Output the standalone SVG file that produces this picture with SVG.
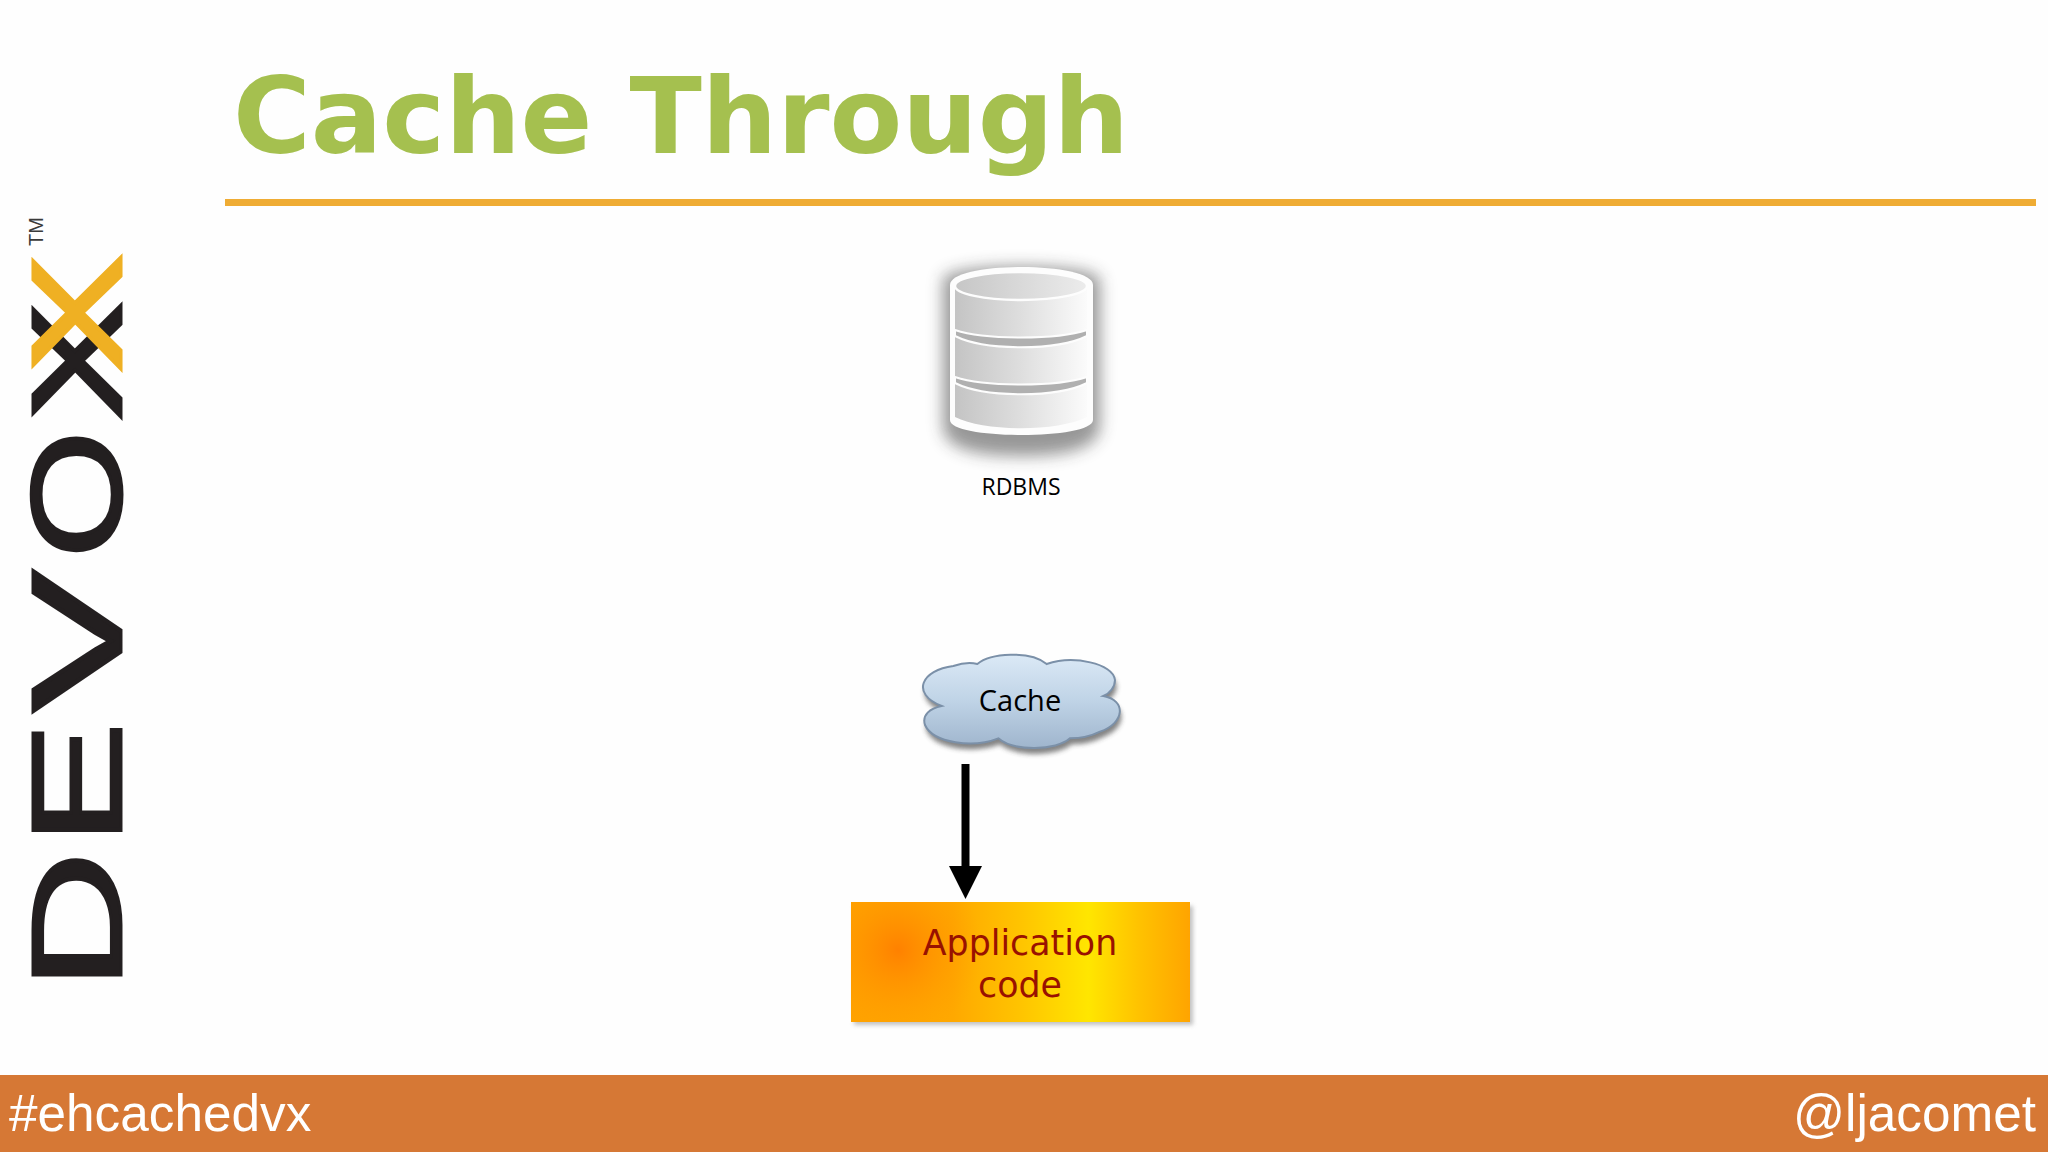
<svg xmlns="http://www.w3.org/2000/svg" width="2048" height="1152" viewBox="0 0 2048 1152">
<style>
.logo{font-family:"Liberation Sans",Arial,sans-serif;font-size:128px;fill:#231f20;stroke:#231f20;stroke-width:3}
.logoy{fill:#efb023;stroke:#efb023}
.foot{font-family:"Liberation Sans",Arial,sans-serif;font-size:51.300px;fill:#fff}
.app{font-family:"DejaVu Sans",Verdana,sans-serif;font-size:34.800px;fill:#991100;text-anchor:middle}
.band{fill:#b0b0b0;stroke:#fdfdfd;stroke-width:2}
</style>
<defs>
<linearGradient id="appH" x1="0" y1="0" x2="1" y2="0">
<stop offset="0" stop-color="#ffa200"/><stop offset=".3" stop-color="#ffa800"/><stop offset=".5" stop-color="#ffc400"/><stop offset=".7" stop-color="#ffe600"/><stop offset=".85" stop-color="#ffc200"/><stop offset="1" stop-color="#ffa400"/>
</linearGradient>
<radialGradient id="appR" gradientUnits="userSpaceOnUse" cx="898" cy="950" r="85">
<stop offset="0" stop-color="#ff7f00" stop-opacity=".95"/><stop offset="1" stop-color="#ff9c00" stop-opacity="0"/>
</radialGradient>
<linearGradient id="cloudG" x1="0" y1="0" x2="0" y2="1">
<stop offset="0" stop-color="#dbe9f6"/><stop offset=".5" stop-color="#bfd3e6"/><stop offset="1" stop-color="#9fb5cd"/>
</linearGradient>
<linearGradient id="cyl" x1="0" y1="0" x2="1" y2="0">
<stop offset="0" stop-color="#c4c4c4"/><stop offset=".5" stop-color="#dedede"/><stop offset="1" stop-color="#fbfbfb"/>
</linearGradient>
<linearGradient id="cylTop" x1="0" y1="0" x2="1" y2="0">
<stop offset="0" stop-color="#c6c6c6"/><stop offset="1" stop-color="#ececec"/>
</linearGradient>
<filter id="sh" x="-30%" y="-30%" width="160%" height="170%"><feGaussianBlur stdDeviation="8"/></filter>
<filter id="sh2" x="-10%" y="-10%" width="120%" height="120%"><feGaussianBlur stdDeviation="2"/></filter>
<marker id="head" markerUnits="userSpaceOnUse" markerWidth="34" markerHeight="33" refX="0" refY="16.5" orient="auto">
<path d="M0 0L33 16.5L0 33Z" fill="#000"/>
</marker>
</defs>
<rect width="2048" height="1152" fill="#fefefe"/>
<text x="233" y="153" font-family="'DejaVu Sans',Verdana,sans-serif" font-weight="700" font-size="106" fill="#a5c04f">Cache Through</text>
<rect x="225" y="199" width="1811" height="7" fill="#efac34"/>
<g id="logo">
<text class="logo" transform="translate(121,990) rotate(-90) scale(1.5,1)">D</text>
<text class="logo" transform="translate(121,845) rotate(-90) scale(1.44,1)">E</text>
<text class="logo" transform="translate(121,712) rotate(-90) scale(1.66,1)">V</text>
<text class="logo" transform="translate(121,558) rotate(-90) scale(1.28,1)">O</text>
<text class="logo" transform="translate(121,421) rotate(-90) scale(1.4,1)">X</text>
<text class="logo logoy" transform="translate(121,373) rotate(-90) scale(1.4,1)">X</text>
<text transform="translate(43,246) rotate(-90)" font-family="'Liberation Sans',Arial,sans-serif" font-size="20" fill="#3a3a3a">TM</text>
</g>
<g id="rdbms">
<path d="M943 280C943 262 1100 262 1100 280V425Q1100 456 1021 456T943 425Z" fill="#333" opacity=".5" filter="url(#sh)"/>
<path d="M950 285C950 261 1093 261 1093 285V420C1093 440 950 440 950 420Z" fill="#fdfdfd"/>
<path d="M955 287H1087V417C1057 432 985 432 955 417Z" fill="url(#cyl)"/>
<ellipse cx="1021" cy="286" rx="66" ry="14" fill="url(#cylTop)" stroke="#fdfdfd" stroke-width="2.5"/>
<path class="band" d="M955 330C985 340 1057 340 1087 330V336C1057 351 985 351 955 336Z"/>
<path class="band" d="M955 377C985 387 1057 387 1087 377V383C1057 398 985 398 955 383Z"/>
<text x="1021" y="495" text-anchor="middle" font-family="'Open Sans',sans-serif" font-size="23" fill="#000">RDBMS</text>
</g>
<g id="cache">
<g transform="translate(820,630) scale(.33333)">
<path d="M365 228C270 190 305 120 400 108C430 98 455 98 472 102C510 70 630 60 680 102C760 75 880 100 885 150C885 170 870 190 850 198C920 210 915 280 840 305C810 320 780 325 750 325C710 362 580 365 535 325C460 355 340 340 315 285C305 255 330 235 365 228Z" fill="#333" opacity=".6" filter="url(#sh)" transform="translate(5,18)"/>
<path d="M365 228C270 190 305 120 400 108C430 98 455 98 472 102C510 70 630 60 680 102C760 75 880 100 885 150C885 170 870 190 850 198C920 210 915 280 840 305C810 320 780 325 750 325C710 362 580 365 535 325C460 355 340 340 315 285C305 255 330 235 365 228Z" fill="url(#cloudG)" stroke="#7b90a8" stroke-width="6"/>
</g>
<text x="1020" y="711" text-anchor="middle" font-family="'Open Sans',sans-serif" font-size="29" fill="#000">Cache</text>
</g>
<g id="app">
<rect x="854" y="906" width="339" height="119" fill="#999" opacity=".6" filter="url(#sh2)"/>
<rect x="851" y="902" width="339" height="120" fill="url(#appH)"/>
<rect x="851" y="902" width="339" height="120" fill="url(#appR)"/>
<text class="app" x="1020" y="955">Application</text>
<text class="app" x="1020" y="997">code</text>
</g>
<g id="connectors">
<line x1="965.500" y1="764" x2="965.500" y2="866" stroke="#000" stroke-width="8" marker-end="url(#head)"/>
</g>
<g id="footer">
<rect y="1075" width="2048" height="77" fill="#d67835"/>
<text class="foot" x="9" y="1131">#ehcachedvx</text>
<text class="foot" x="2036" y="1131" text-anchor="end">@ljacomet</text>
</g>
</svg>
